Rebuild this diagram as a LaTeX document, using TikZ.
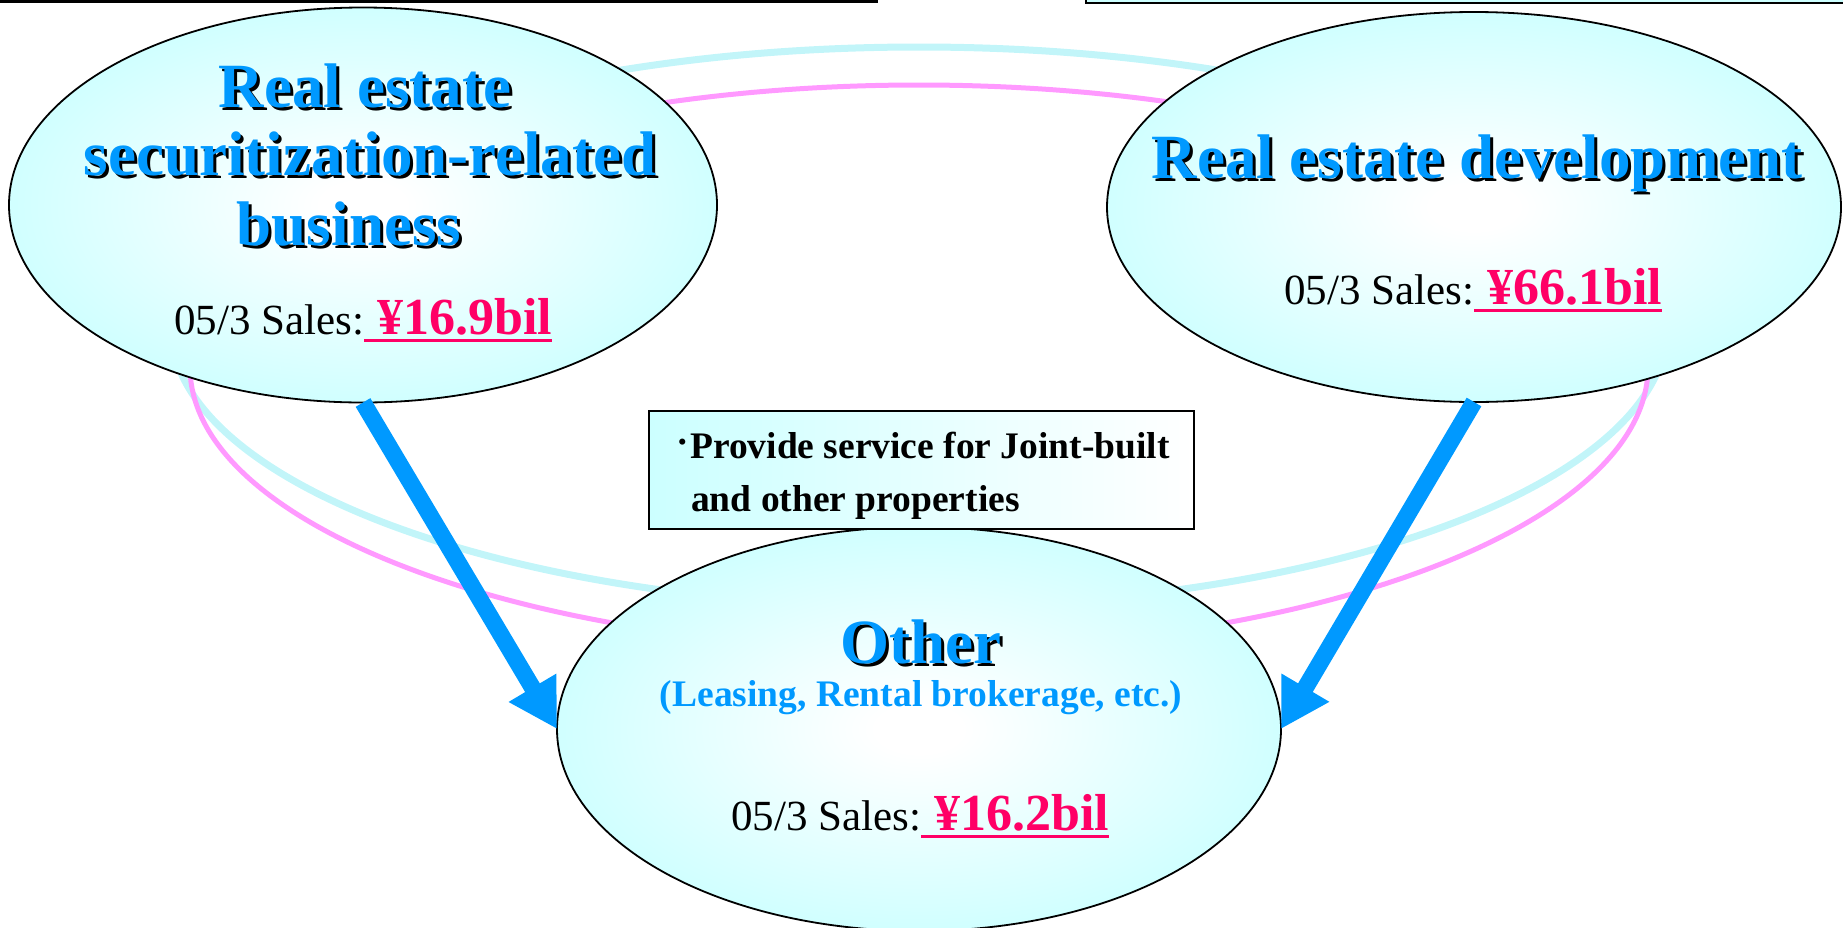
\documentclass[tikz,border=0pt]{standalone}
\usepackage{fontspec}
\setmainfont{Liberation Serif}
\usetikzlibrary{arrows.meta,shapes.geometric}
\definecolor{cyanL}{HTML}{CCFFFF}
\definecolor{ringcyan}{HTML}{C2F5F9}
\definecolor{ringpink}{HTML}{FF99FF}
\definecolor{titleblue}{HTML}{0099FF}
\definecolor{amountred}{HTML}{FF0066}
\pgfdeclareradialshading{ellshade}{\pgfpoint{0bp}{0bp}}{color(0bp)=(white); color(3bp)=(white); color(27bp)=(cyanL); color(50bp)=(cyanL)}
\newsavebox\ulbox
\newcommand\amountul[1]{\sbox\ulbox{#1}\rlap{\rule[-8pt]{\wd\ulbox}{3pt}}\usebox\ulbox}
\newcommand\shtitle[3]{%
  \node[titletext, text=black, xshift=3pt, yshift=-3pt] (#1s) at #2 {#3};
  \node[titletext] (#1) at #2 {#3};}
\newcommand\salesline[1]{{\fontsize{43}{50}\selectfont 05/3 Sales:}{\color{amountred}\fontsize{52}{60}\selectfont\bfseries\amountul{\ #1}}}
\begin{document}
\begin{tikzpicture}[x=1pt,y=-1pt,
  ell/.style={ellipse, draw=black, line width=1.8pt, inner sep=0pt, outer sep=0pt, shading=ellshade},
  ringc/.style={draw=ringcyan, line width=7pt},
  ringp/.style={draw=ringpink, line width=5pt},
  titletext/.style={font=\fontsize{63}{69}\selectfont\bfseries, text=titleblue, anchor=base, inner sep=0pt},
  subtext/.style={font=\fontsize{37.5}{44}\selectfont\bfseries, text=titleblue, anchor=base, inner sep=0pt},
  salestext/.style={anchor=base west, inner sep=0pt, text=black},
  infobox/.style={draw=black, line width=2pt, left color=cyanL, right color=white, inner sep=0pt, anchor=north west},
  boxtext/.style={font=\fontsize{37.5}{45}\selectfont\bfseries, anchor=base west, inner sep=0pt},
  flow/.style={draw=titleblue, line width=17pt, -{Triangle[length=48pt,width=52pt]}},
  frameline/.style={draw=black, line width=3pt}]

\useasboundingbox (0,0) rectangle (1843,927);

% partial frames cut by the top edge
\draw[frameline] (0,1.5) -- (878,1.5);
\filldraw[fill=cyanL, draw=black, line width=2.5pt] (1086,-20) rectangle (1860,3);

% decorative rings
\draw[ringc] (919,327) ellipse [x radius=748pt, y radius=280pt];
\draw[ringp] (919,367) ellipse [x radius=729pt, y radius=282pt];

% ellipses
\node[ell, minimum width=708pt, minimum height=395pt] (L) at (363,205) {};
\node[ell, minimum width=734pt, minimum height=390pt] (R) at (1474,207) {};
\node[ell, minimum width=724pt, minimum height=404pt] (B) at (919,729) {};

% info box
\node[infobox, minimum width=545pt, minimum height=118pt] (S) at (648,410) {};

% arrows
\draw[flow] (L.south) -- (B.west);
\draw[flow] (R.south) -- (B.east);

% texts
\shtitle{Lt1}{(365,107)}{Real estate}
\shtitle{Lt2}{(370,175)}{securitization-related}
\shtitle{Lt3}{(349,245)}{business}
\node[salestext] (Ls) at (174,334) {\salesline{¥16.9bil}};

\shtitle{Rt}{(1477,178)}{Real estate development}
\node[salestext] (Rs) at (1284,304) {\salesline{¥66.1bil}};

\shtitle{Bt}{(921,663)}{Other}
\node[subtext] (Bsub) at (921,706) {(Leasing, Rental brokerage, etc.)};
\node[salestext] (Bs) at (731,830) {\salesline{¥16.2bil}};

\node[boxtext] (S1) at (676,458) {\makebox[14pt][l]{\raisebox{4pt}{·}}Provide service for Joint-built};
\node[boxtext] (S2) at (691,511) {and other properties};
\end{tikzpicture}
\end{document}
